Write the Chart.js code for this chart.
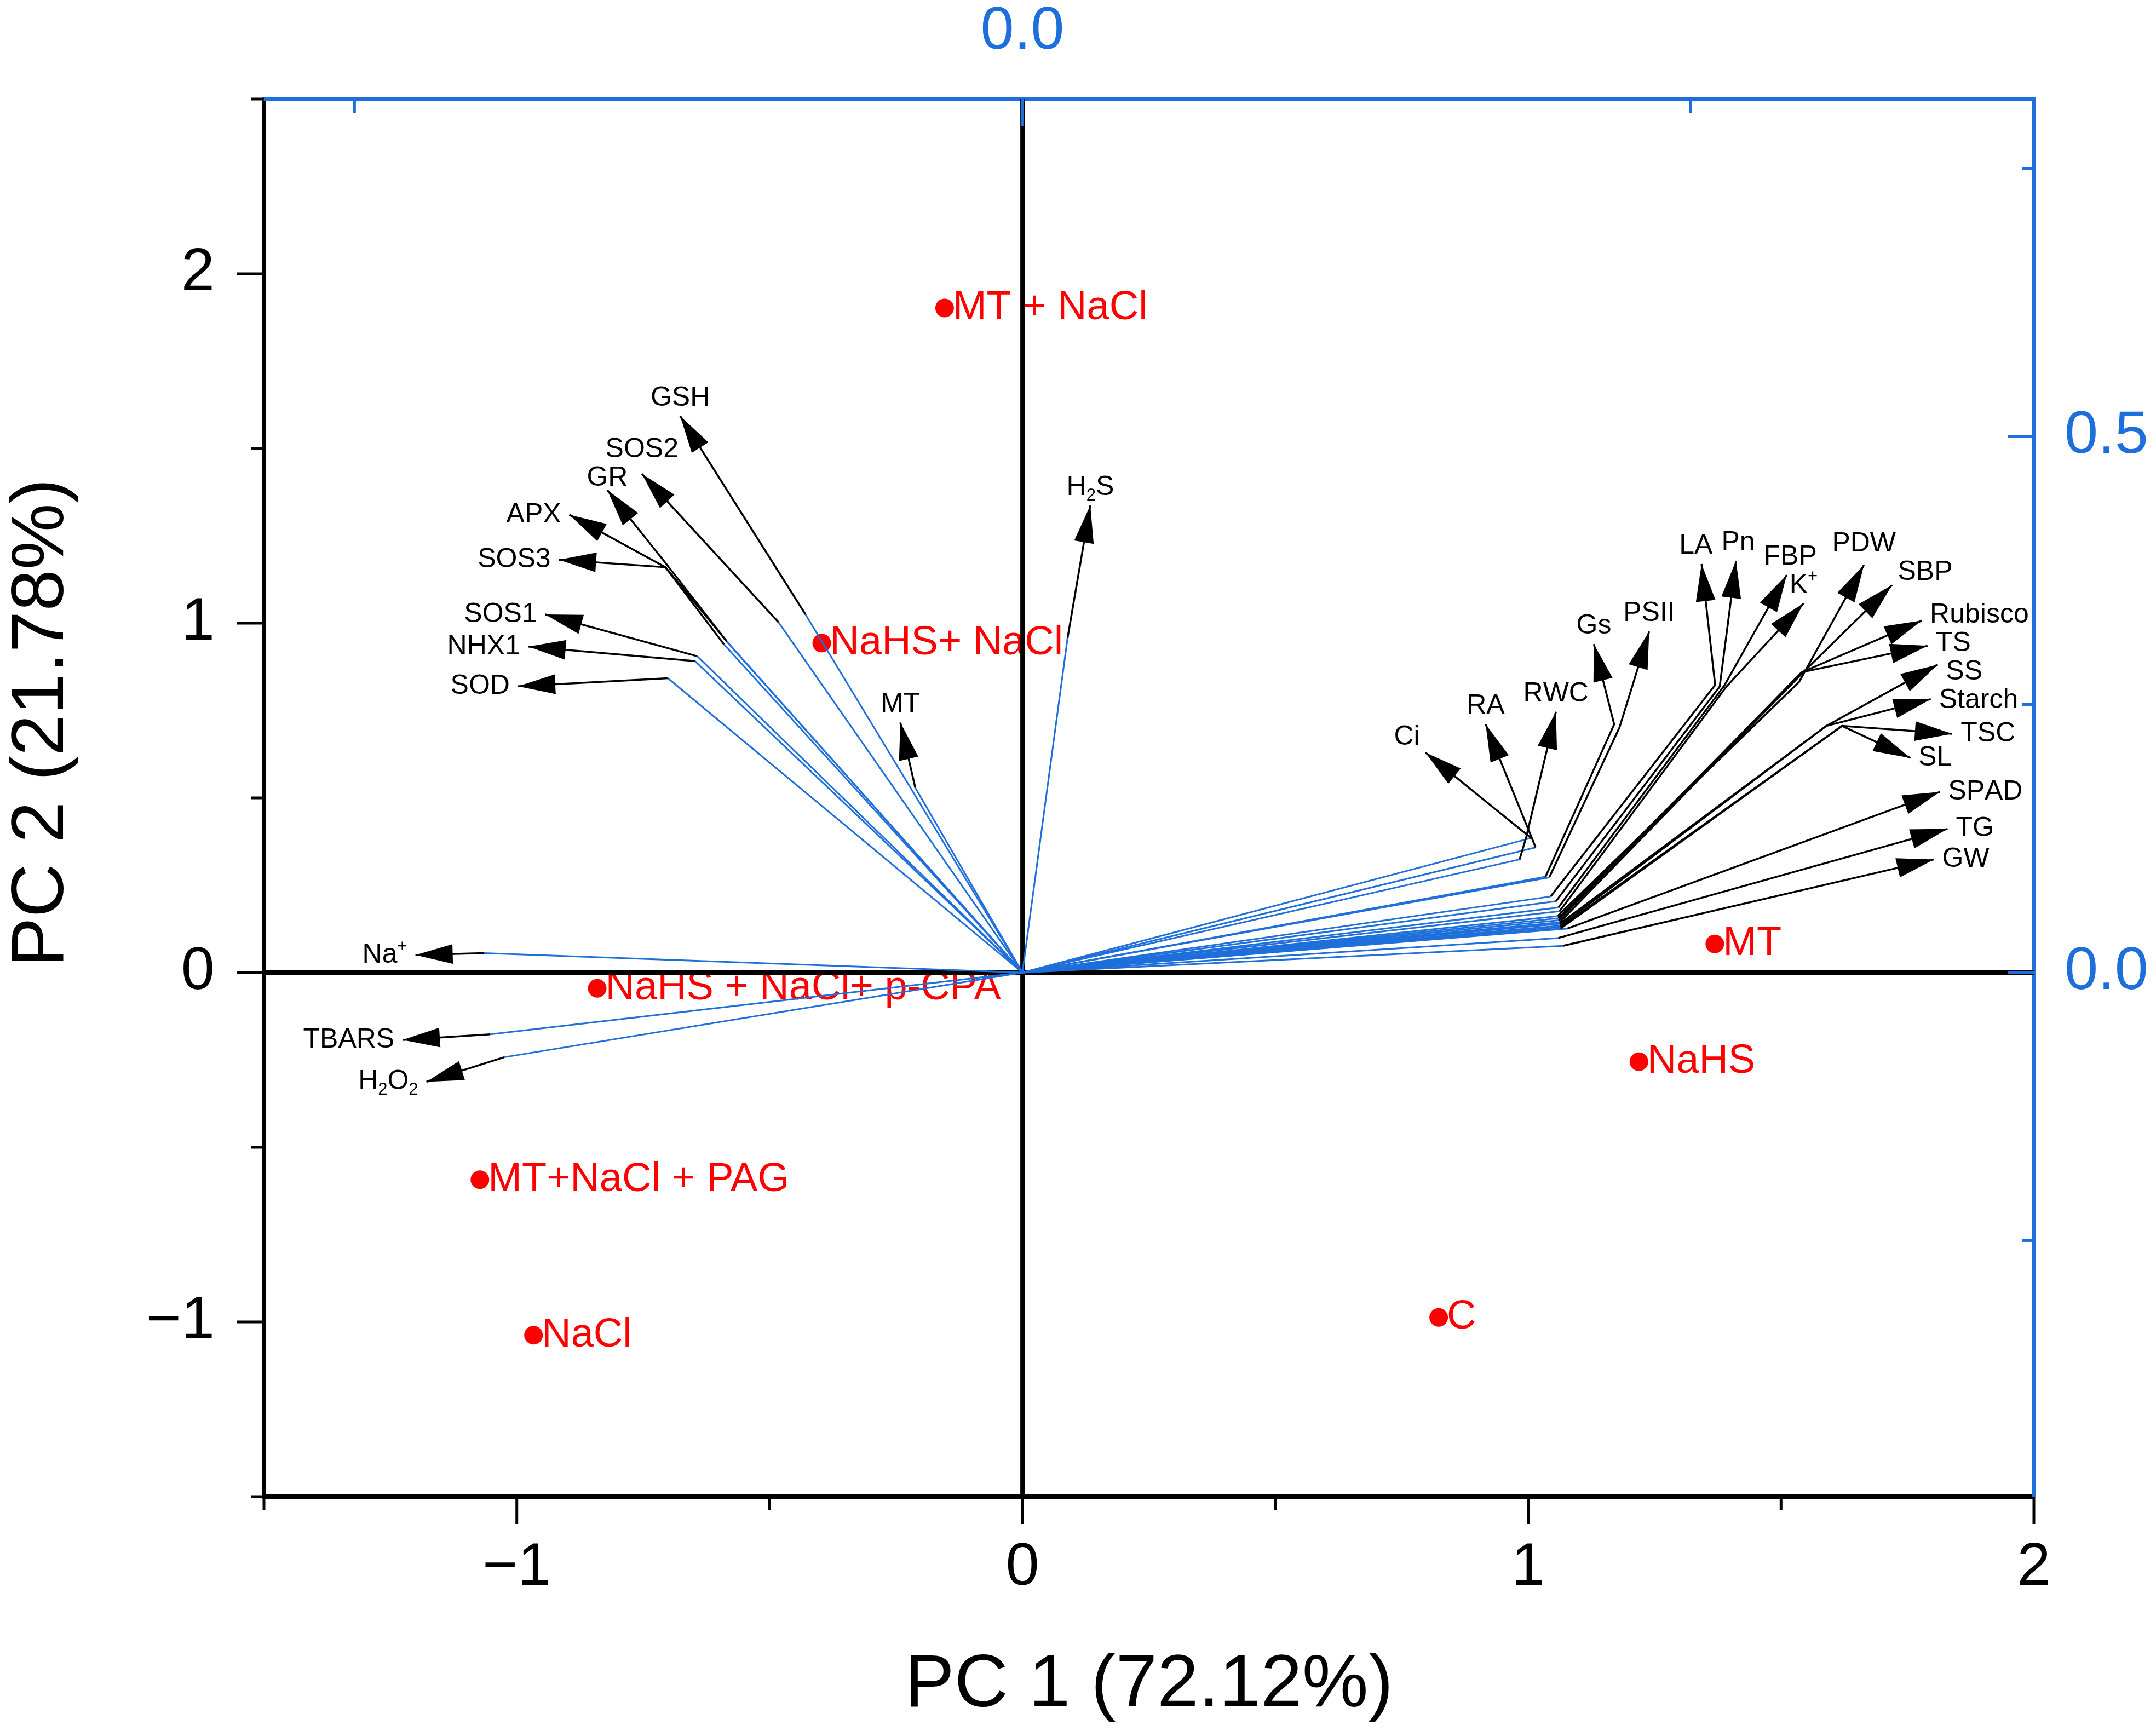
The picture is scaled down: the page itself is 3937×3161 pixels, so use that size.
<!DOCTYPE html>
<html>
<head>
<meta charset="utf-8">
<title>PCA biplot</title>
<script src="https://cdn.jsdelivr.net/npm/chart.js@4.4.1/dist/chart.umd.min.js"></script>
<style>
  html, body { margin: 0; padding: 0; background: #fff; overflow: hidden; }
  canvas { display: block; }
</style>
</head>
<body>
<canvas id="biplot" width="3937" height="3161"></canvas>
<script>
// Treatment scores on PC1 / PC2 (bottom and left axes)
const treatments = ['MT + NaCl', 'NaHS+ NaCl', 'NaHS + NaCl+ p-CPA', 'MT+NaCl + PAG', 'NaCl', 'MT', 'NaHS', 'C'];
const scorePC1 = [-0.154, -0.397, -0.841, -1.073, -0.967, 1.369, 1.219, 0.823];
const scorePC2 = [1.902, 0.943, -0.045, -0.593, -1.038, 0.082, -0.255, -0.987];

// Variable loadings (top and right axes). '_' marks a subscript, '^' a superscript
const variables = ['GSH', 'SOS2', 'GR', 'APX', 'SOS3', 'SOS1', 'NHX1', 'SOD', 'MT', 'H_2S',
  'Na^+', 'TBARS', 'H_2O_2', 'Ci', 'RA', 'RWC', 'Gs', 'PSII', 'LA', 'Pn',
  'FBP', 'K^+', 'PDW', 'SBP', 'Rubisco', 'TS', 'SS', 'Starch', 'TSC', 'SL',
  'SPAD', 'TG', 'GW'];
const loadPC1 = [-0.0812, -0.0914, -0.1106, -0.1107, -0.1117, -0.1217, -0.1226, -0.1327, -0.0401, 0.0169,
  -0.2016, -0.1992, -0.1940, 0.1904, 0.1921, 0.1861, 0.1958, 0.1972, 0.1977, 0.1997,
  0.2006, 0.2011, 0.2003, 0.2006, 0.2008, 0.2011, 0.2011, 0.2013, 0.2013, 0.2014,
  0.2040, 0.2006, 0.2023];
const loadPC2 = [0.334, 0.327, 0.3085, 0.309, 0.306, 0.295, 0.2905, 0.2745, 0.1723, 0.312,
  0.0181, -0.0576, -0.079, 0.1254, 0.1167, 0.1055, 0.0894, 0.0887, 0.0709, 0.0665,
  0.0606, 0.0572, 0.0526, 0.0506, 0.0487, 0.0468, 0.0454, 0.0436, 0.0423, 0.041,
  0.041, 0.0322, 0.0249];

// Label leaders: optional bend point, then the arrow tip (loading units)
const bendPC1 = [null, null, -0.1336, -0.1336, -0.1336, null, null, null, null, null,
  null, null, null, null, null, 0.1887, 0.2215, 0.2235, 0.2593, 0.2610,
  0.2627, 0.2635, 0.2907, 0.2916, 0.2916, 0.2924, 0.3009, 0.3009, 0.3068, 0.3068,
  null, null, null];
const bendPC2 = [null, null, 0.382, 0.378, 0.378, null, null, null, null, null,
  null, null, null, null, null, 0.1274, 0.2315, 0.2286, 0.2682, 0.2667,
  0.2676, 0.2667, 0.271, 0.2785, 0.2799, 0.2805, 0.23, 0.23, 0.23, 0.23,
  null, null, null];
const tipPC1 = [-0.1281, -0.1424, -0.1554, -0.1696, -0.1735, -0.1786, -0.1849, -0.1888, -0.0457, 0.0254,
  -0.2272, -0.2320, -0.2231, 0.1509, 0.1734, 0.1997, 0.2139, 0.2346, 0.2542, 0.2671,
  0.2861, 0.2924, 0.3150, 0.3255, 0.3366, 0.3388, 0.3426, 0.3400, 0.3480, 0.3324,
  0.3434, 0.3463, 0.3412];
const tipPC2 = [0.519, 0.465, 0.450, 0.427, 0.385, 0.334, 0.304, 0.267, 0.2332, 0.4356,
  0.0163, -0.0628, -0.1019, 0.2051, 0.2315, 0.2432, 0.3063, 0.318, 0.381, 0.384,
  0.3708, 0.3444, 0.3801, 0.3613, 0.3282, 0.3047, 0.2872, 0.255, 0.2227, 0.2001,
  0.1685, 0.134, 0.1055];

// Axis ticks
const pc1Ticks = [-1.5, -1, -0.5, 0, 0.5, 1, 1.5, 2];
const pc2Ticks = [-1.5, -1, -0.5, 0, 0.5, 1, 1.5, 2, 2.5];
const topTicks = [-0.25, 0, 0.25];
const topMajor = [0];
const rightTicks = [-0.25, 0, 0.25, 0.5, 0.75];
const rightMajor = [0, 0.5];

const FONT = '"Liberation Sans", Arial, Helvetica, sans-serif';
const BLUE = '#1E6FDB';
const RED = '#FF0000';
const HEAD_LEN = 68;
const HEAD_W = 18;

function richParts(text) {
  const parts = [];
  for (let i = 0; i < text.length; i++) {
    const c = text[i];
    if ((c === '_' || c === '^') && i + 1 < text.length) {
      parts.push({ t: text[i + 1], k: c });
      i++;
    } else {
      parts.push({ t: c, k: '' });
    }
  }
  return parts;
}

function measureRich(ctx, parts, size) {
  let w = 0;
  parts.forEach(p => {
    ctx.font = (p.k ? size * 0.62 : size) + 'px ' + FONT;
    p.w = ctx.measureText(p.t).width;
    w += p.w;
  });
  return w;
}

function drawRich(ctx, parts, cx, cy, size, w) {
  let x = cx - w / 2;
  ctx.textAlign = 'left';
  ctx.textBaseline = 'middle';
  parts.forEach(p => {
    ctx.font = (p.k ? size * 0.62 : size) + 'px ' + FONT;
    let dy = 0;
    if (p.k === '_') dy = size * 0.3;
    if (p.k === '^') dy = -size * 0.3;
    ctx.fillText(p.t, x, cy + dy);
    x += p.w;
  });
}

const fmtInt = v => (v < 0 ? '\u2212' + Math.abs(v) : String(v));
const near = (a, b) => Math.abs(a - b) < 1e-6;

// where a label sits relative to its arrow tip: above/below, beside, or at a corner
function labelCenter(tip, ux, uy, hw, hh, gap) {
  const ax = Math.abs(ux);
  if (ax < 0.7) return [tip[0], tip[1] + Math.sign(uy) * (gap + hh)];
  if (ax > 0.85) return [tip[0] + Math.sign(ux) * (gap + hw), tip[1]];
  const g = gap * 0.7;
  return [tip[0] + Math.sign(ux) * (g + hw), tip[1] + Math.sign(uy) * (g + hh)];
}

// push overlapping label boxes apart
function relax(boxes, margin) {
  for (let it = 0; it < 60; it++) {
    let moved = false;
    for (let i = 0; i < boxes.length; i++) {
      for (let j = i + 1; j < boxes.length; j++) {
        const a = boxes[i], b = boxes[j];
        const ox = a.hw + b.hw + margin - Math.abs(a.cx - b.cx);
        const oy = a.hh + b.hh + margin - Math.abs(a.cy - b.cy);
        if (ox > 0 && oy > 0) {
          moved = true;
          if (ox < oy) {
            const s = a.cx < b.cx ? -1 : 1;
            a.cx += s * ox / 2; b.cx -= s * ox / 2;
          } else {
            const s = a.cy < b.cy ? -1 : 1;
            a.cy += s * oy / 2; b.cy -= s * oy / 2;
          }
        }
      }
    }
    if (!moved) break;
  }
}

const decor = {
  id: 'decor',
  beforeDatasetsDraw(chart) {
    const { ctx, chartArea: a, scales: { x, y } } = chart;
    ctx.save();
    // treatment names
    ctx.fillStyle = RED;
    ctx.font = '74px ' + FONT;
    ctx.textAlign = 'left';
    ctx.textBaseline = 'middle';
    treatments.forEach((t, i) => {
      ctx.fillText(t, x.getPixelForValue(scorePC1[i]) + 15, y.getPixelForValue(scorePC2[i]));
    });
    // zero lines
    const x0 = x.getPixelForValue(0);
    const y0 = y.getPixelForValue(0);
    ctx.strokeStyle = '#000';
    ctx.lineWidth = 8;
    ctx.beginPath();
    ctx.moveTo(x0, a.top);
    ctx.lineTo(x0, a.bottom);
    ctx.moveTo(a.left, y0);
    ctx.lineTo(a.right, y0);
    ctx.stroke();
    ctx.restore();
  },
  afterDatasetsDraw(chart) {
    const { ctx, scales: { x2, y2 } } = chart;
    const P = (lx, ly) => [x2.getPixelForValue(lx), y2.getPixelForValue(ly)];
    const size = 50;
    const boxes = [];
    ctx.save();
    ctx.fillStyle = '#000';
    variables.forEach((name, i) => {
      const tip = P(tipPC1[i], tipPC2[i]);
      const from = bendPC1[i] !== null ? P(bendPC1[i], bendPC2[i]) : P(loadPC1[i], loadPC2[i]);
      const dx = tip[0] - from[0];
      const dy = tip[1] - from[1];
      const L = Math.hypot(dx, dy);
      const ux = dx / L, uy = dy / L;
      // arrow head
      const bx = tip[0] - ux * HEAD_LEN;
      const by = tip[1] - uy * HEAD_LEN;
      ctx.beginPath();
      ctx.moveTo(tip[0], tip[1]);
      ctx.lineTo(bx - uy * HEAD_W, by + ux * HEAD_W);
      ctx.lineTo(bx + uy * HEAD_W, by - ux * HEAD_W);
      ctx.closePath();
      ctx.fill();
      const parts = richParts(name);
      const w = measureRich(ctx, parts, size);
      const hh = size * 0.36;
      const c = labelCenter(tip, ux, uy, w / 2, hh, 15);
      boxes.push({ parts: parts, w: w, hw: w / 2, hh: hh, cx: c[0], cy: c[1] });
    });
    relax(boxes, 16);
    boxes.forEach(b => drawRich(ctx, b.parts, b.cx, b.cy, size, b.w));
    ctx.restore();
  },
  afterDraw(chart) {
    const { ctx, chartArea: a, scales: { x, y, x2, y2 } } = chart;
    ctx.save();
    ctx.lineWidth = 5;
    const seg = (x1, y1, x3, y3) => { ctx.beginPath(); ctx.moveTo(x1, y1); ctx.lineTo(x3, y3); ctx.stroke(); };
    // bottom and left ticks (outside)
    ctx.strokeStyle = '#000';
    pc1Ticks.forEach(v => {
      const px = x.getPixelForValue(v);
      seg(px, a.bottom, px, a.bottom + (Number.isInteger(v) ? 50 : 24));
    });
    pc2Ticks.forEach(v => {
      const py = y.getPixelForValue(v);
      seg(a.left, py, a.left - (Number.isInteger(v) ? 50 : 24), py);
    });
    // top and right ticks (inside)
    ctx.strokeStyle = BLUE;
    topTicks.forEach(v => {
      const px = x2.getPixelForValue(v);
      seg(px, a.top, px, a.top + (topMajor.some(m => near(m, v)) ? 50 : 25));
    });
    rightTicks.forEach(v => {
      const py = y2.getPixelForValue(v);
      seg(a.right, py, a.right - (rightMajor.some(m => near(m, v)) ? 48 : 22), py);
    });
    // axis titles
    ctx.fillStyle = '#000';
    ctx.font = '136px ' + FONT;
    ctx.textAlign = 'center';
    ctx.textBaseline = 'alphabetic';
    ctx.fillText('PC 1 (72.12%)', (a.left + a.right) / 2, a.bottom + 383);
    ctx.translate(115, a.top + 1139);
    ctx.rotate(-Math.PI / 2);
    ctx.fillText('PC 2 (21.78%)', 0, 0);
    ctx.restore();
  }
};

const datasets = [];
datasets.push({
  label: 'Scores',
  data: scorePC1.map((v, i) => ({ x: v, y: scorePC2[i] })),
  xAxisID: 'x',
  yAxisID: 'y',
  pointRadius: 17,
  pointBackgroundColor: RED,
  pointBorderWidth: 0,
  showLine: false,
  order: 3
});
variables.forEach((name, i) => {
  datasets.push({
    label: name + ' loading',
    data: [{ x: 0, y: 0 }, { x: loadPC1[i], y: loadPC2[i] }],
    xAxisID: 'x2',
    yAxisID: 'y2',
    showLine: true,
    borderColor: BLUE,
    borderWidth: 3,
    pointRadius: 0,
    order: 2
  });
  const leader = [{ x: loadPC1[i], y: loadPC2[i] }];
  if (bendPC1[i] !== null) leader.push({ x: bendPC1[i], y: bendPC2[i] });
  leader.push({ x: tipPC1[i], y: tipPC2[i] });
  datasets.push({
    label: name + ' leader',
    data: leader,
    xAxisID: 'x2',
    yAxisID: 'y2',
    showLine: true,
    borderColor: '#000',
    borderWidth: 3.5,
    pointRadius: 0,
    order: 1
  });
});

const tickFont = { family: FONT, size: 110 };

new Chart(document.getElementById('biplot'), {
  type: 'scatter',
  data: { datasets: datasets },
  options: {
    responsive: false,
    devicePixelRatio: 1,
    animation: false,
    events: [],
    layout: { padding: 0 },
    plugins: { legend: { display: false }, tooltip: { enabled: false } },
    scales: {
      x: {
        type: 'linear', position: 'bottom', axis: 'x', min: -1.5, max: 2,
        grid: { display: false, drawTicks: false },
        border: { display: true, color: '#000', width: 8 },
        ticks: { stepSize: 0.5, autoSkip: false, maxRotation: 0, padding: 65, color: '#000', font: tickFont,
          callback: v => (Number.isInteger(v) ? fmtInt(v) : '') },
        afterFit: s => { s.height = 428; }
      },
      y: {
        type: 'linear', position: 'left', axis: 'y', min: -1.5, max: 2.5,
        grid: { display: false, drawTicks: false },
        border: { display: true, color: '#000', width: 8 },
        ticks: { stepSize: 0.5, autoSkip: false, padding: 90, color: '#000', font: tickFont,
          callback: v => (Number.isInteger(v) ? fmtInt(v) : '') },
        afterFit: s => { s.width = 482; }
      },
      x2: {
        type: 'linear', position: 'top', axis: 'x', min: -0.2839, max: 0.3786,
        grid: { display: false, drawTicks: false },
        border: { display: true, color: BLUE, width: 8 },
        ticks: { stepSize: 0.25, autoSkip: false, maxRotation: 0, padding: 56, color: BLUE, font: tickFont,
          callback: v => (near(v, 0) ? '0.0' : '') },
        afterFit: s => { s.height = 181; }
      },
      y2: {
        type: 'linear', position: 'right', axis: 'y', min: -0.4888, max: 0.8146,
        grid: { display: false, drawTicks: false },
        border: { display: true, color: BLUE, width: 8 },
        ticks: { stepSize: 0.25, autoSkip: false, padding: 56, color: BLUE, font: tickFont,
          callback: v => (near(v, 0) ? '0.0' : near(v, 0.5) ? '0.5' : '') },
        afterFit: s => { s.width = 223; }
      }
    }
  },
  plugins: [decor]
});
</script>
</body>
</html>
